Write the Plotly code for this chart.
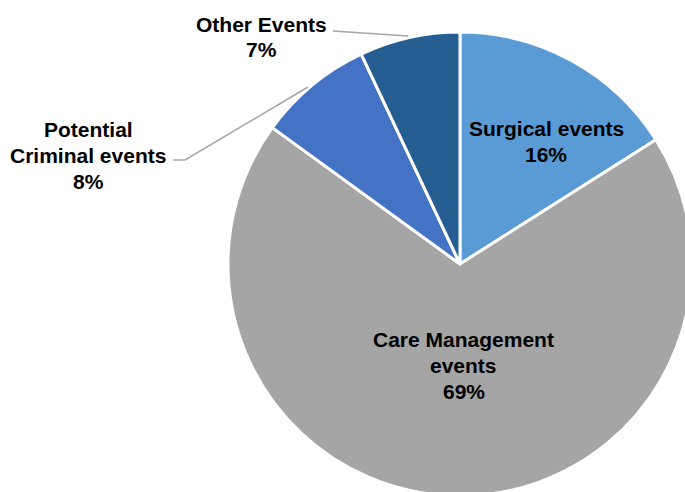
import plotly.graph_objects as go

# ---- data ----
categories = ["Surgical events", "Care Management events", "Potential Criminal events", "Other Events"]
values = [16, 69, 8, 7]
label_lines = [["Surgical events"], ["Care Management", "events"], ["Potential", "Criminal events"], ["Other Events"]]
colors = ["#5B9BD5", "#A5A5A5", "#4472C4", "#255E91"]

W, H = 700, 500  # figure slightly larger than the window: pie is cropped like the reference

def px(x):
    return x / W

def py(y):
    return 1 - y / H

fig = go.Figure(go.Pie(
    labels=categories,
    values=values,
    sort=False,
    direction="clockwise",
    rotation=0,
    marker=dict(colors=colors, line=dict(color="white", width=3)),
    textinfo="none",
    hoverinfo="label+percent",
    domain=dict(x=[px(228), px(692)], y=[py(496), py(32)]),
    showlegend=False,
))

# label anchor positions (pixel centers of first line) per category
label_pos = [(546, 128), (464, 339), (88, 129), (261, 24)]
step = 26
font = dict(family="Liberation Sans, Arial, sans-serif", size=21, color="#000000")
annotations = []
for lines, v, (cx, cy) in zip(label_lines, values, label_pos):
    all_lines = list(lines) + [f"{v}%"]
    for i, t in enumerate(all_lines):
        annotations.append(dict(
            x=px(cx), y=py(cy + i * step), xref="paper", yref="paper",
            text=f"<b>{t}</b>", showarrow=False, xanchor="center", yanchor="middle",
            font=font,
        ))

line_style = dict(color="#A6A6A6", width=1.5)
shapes = [
    dict(type="path", xref="paper", yref="paper",
         path=f"M {px(173)} {py(160)} L {px(185)} {py(160)} L {px(308)} {py(87)}", line=line_style),
    dict(type="line", xref="paper", yref="paper",
         x0=px(333), y0=py(31), x1=px(408), y1=py(36), line=line_style),
]

fig.update_layout(
    width=W, height=H,
    margin=dict(l=0, r=0, t=0, b=0),
    paper_bgcolor="white", plot_bgcolor="white",
    annotations=annotations, shapes=shapes,
)

fig.write_html("out.html", config={"displayModeBar": False},
               post_script="document.body.style.margin='0';document.body.style.overflow='hidden';")
